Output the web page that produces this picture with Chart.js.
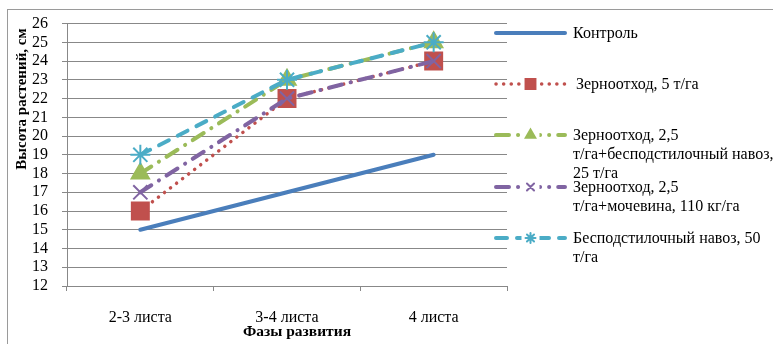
<!DOCTYPE html>
<html>
<head>
<meta charset="utf-8">
<script src="https://cdn.jsdelivr.net/npm/chart.js@4.4.1/dist/chart.umd.min.js"></script>
<style>
  html, body { margin: 0; padding: 0; background: #fff; }
  #wrap { position: relative; width: 773px; height: 344px; }
  #frame { position: absolute; left: 7px; top: 9px; right: 0; bottom: 0; border-top: 1px solid #9a9a9a; border-left: 1px solid #9a9a9a; }
  canvas { position: absolute; left: 0; top: 0; }
</style>
</head>
<body>
<div id="wrap">
  <div id="frame"></div>
  <canvas id="chart" width="773" height="344"></canvas>
</div>
<script>
const categories = ['2-3 листа', '3-4 листа', '4 листа'];
const control = [15, 17, 19];
const grain5 = [16, 22, 24];
const grainManure = [18, 23, 25];
const grainUrea = [17, 22, 24];
const manure50 = [19, 23, 25];
const yMin = 12;
const yMax = 26;
const yStep = 1;
const legendLines = [
    ['Контроль'],
    ['Зерноотход, 5 т/га'],
    ['Зерноотход, 2,5', 'т/га+бесподстилочный навоз,', '25 т/га'],
    ['Зерноотход, 2,5', 'т/га+мочевина, 110 кг/га'],
    ['Бесподстилочный навоз, 50', 'т/га']
];
const yTitle = 'Высота растений, см';
const xTitle = 'Фазы развития';

const serif = '"Liberation Serif", "Times New Roman", serif';

const datasets = [
    { label: legendLines[0].join(' '), data: control, borderColor: '#4a7ebb', backgroundColor: '#4a7ebb',
      borderWidth: 4, pointRadius: 0, pointStyle: false, borderDash: [] },
    { label: legendLines[1].join(' '), data: grain5, borderColor: '#c0504d', backgroundColor: '#c0504d',
      borderWidth: 3.5, borderDash: [0.1, 7.5], pointStyle: 'rect', pointRadius: 12, legendRadius: 7 },
    { label: legendLines[2].join(' '), data: grainManure, borderColor: '#9bbb59', backgroundColor: '#9bbb59',
      borderWidth: 4, borderDash: [13, 9, 0.1, 9], pointStyle: 'triangle', pointRadius: 10, legendRadius: 5.5 },
    { label: legendLines[3].join(' '), data: grainUrea, borderColor: '#8064a2', backgroundColor: '#8064a2',
      borderWidth: 4, borderDash: [13, 9, 0.1, 9], pointStyle: 'crossRot', pointRadius: 10, legendRadius: 5 },
    { label: legendLines[4].join(' '), data: manure50, borderColor: '#4bacc6', backgroundColor: '#4bacc6',
      borderWidth: 4, borderDash: [11, 10], pointStyle: 'star', pointRadius: 10, legendRadius: 5 }
];

datasets.forEach((ds, i) => {
    ds.borderCapStyle = 'round';
    ds.tension = 0;
    ds.fill = false;
    ds.order = datasets.length - i;
    ds.pointBorderWidth = 2;
    ds.pointHoverRadius = ds.pointRadius;
});

// legend + axis titles drawn by hand so they sit where the original has them
const extras = {
    id: 'extras',
    afterDraw(chart) {
        const ctx = chart.ctx;
        ctx.save();

        // y title
        ctx.fillStyle = '#000';
        ctx.font = 'bold 15px ' + serif;
        ctx.textAlign = 'center';
        ctx.textBaseline = 'middle';
        ctx.translate(22, 99);
        ctx.rotate(-Math.PI / 2);
        ctx.fillText(yTitle, 0, 0);
        ctx.setTransform(1, 0, 0, 1, 0, 0);

        // x title
        ctx.font = 'bold 15.5px ' + serif;
        ctx.fillText(xTitle, 297, 332);

        // legend
        const rowY = [33, 84, 135, 187, 238];
        const x0 = 496, x1 = 565, tx = 573;
        datasets.forEach((ds, i) => {
            const y = rowY[i];
            ctx.save();
            ctx.strokeStyle = ds.borderColor;
            ctx.lineWidth = ds.borderWidth;
            ctx.lineCap = 'round';
            ctx.setLineDash(ds.borderDash);
            ctx.beginPath();
            ctx.moveTo(x0, y);
            ctx.lineTo(x1, y);
            ctx.stroke();
            ctx.setLineDash([]);
            if (ds.pointStyle && Chart.helpers && Chart.helpers.drawPoint) {
                const mx = (x0 + x1) / 2;
                ctx.fillStyle = '#fff';
                ctx.fillRect(mx - 9, y - 4, 18, 8);
                ctx.fillStyle = ds.backgroundColor;
                ctx.strokeStyle = ds.borderColor;
                ctx.lineWidth = 2;
                Chart.helpers.drawPoint(ctx, { pointStyle: ds.pointStyle, radius: ds.legendRadius, rotation: 0, borderWidth: 2 }, mx, y);
            }
            ctx.restore();

            ctx.fillStyle = '#000';
            ctx.font = '16px ' + serif;
            ctx.textAlign = 'left';
            ctx.textBaseline = 'middle';
            legendLines[i].forEach((line, k) => {
                ctx.fillText(line, tx + (i === 1 ? 3 : 0), y + 1 + k * 19);
            });
        });
        ctx.restore();
    }
};

new Chart(document.getElementById('chart'), {
    type: 'line',
    data: { labels: categories, datasets: datasets },
    options: {
        responsive: false,
        animation: false,
        events: [],
        layout: { padding: { left: 7, top: 20, right: 266, bottom: 0 } },
        plugins: { legend: { display: false }, tooltip: { enabled: false } },
        scales: {
            x: {
                offset: true,
                afterFit(scale) { scale.height = 58; },
                grid: { drawOnChartArea: false, drawTicks: true, tickLength: 5, color: '#888', offset: true },
                border: { color: '#888', width: 1 },
                ticks: { color: '#000', padding: 17, font: { family: serif, size: 16 } }
            },
            y: {
                min: yMin,
                max: yMax,
                afterFit(scale) { scale.width = 60; },
                grid: { color: '#888', lineWidth: 1, tickLength: 5 },
                border: { color: '#888', width: 1 },
                ticks: { stepSize: yStep, autoSkip: false, color: '#000', padding: 14, font: { family: serif, size: 16 } }
            }
        }
    },
    plugins: [extras]
});
</script>
</body>
</html>
